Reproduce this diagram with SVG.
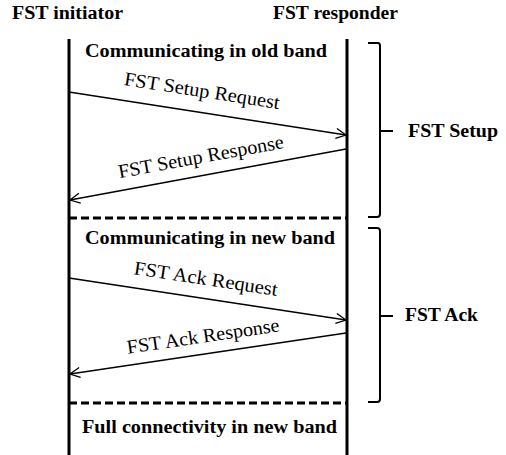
<svg xmlns="http://www.w3.org/2000/svg" width="506" height="455" viewBox="0 0 506 455">
  <defs>
    <marker id="arrow" viewBox="0 0 12 12" refX="11" refY="6" markerWidth="12" markerHeight="12" markerUnits="userSpaceOnUse" orient="auto">
      <path d="M1,1 L11,6 L1,11" fill="none" stroke="#000" stroke-width="1.3"/>
    </marker>
  </defs>
  <style>
    text { font-family: 'Liberation Serif', 'DejaVu Serif', serif; fill: #000; }
    .bold { font-weight: bold; font-size: 18px; }
    .msg { font-size: 19.5px; text-anchor: middle; }
    .life { stroke: #000; stroke-width: 3; fill: none; }
    .dash { stroke: #000; stroke-width: 3; stroke-dasharray: 8 4; fill: none; }
    .brace { stroke: #000; stroke-width: 2; fill: none; }
    .link { stroke: #000; stroke-width: 1.3; fill: none; marker-end: url(#arrow); }
  </style>
  <rect width="506" height="455" fill="#fff"/>

  <g id="initiator">
    <text class="bold" x="12" y="18.5" textLength="111" lengthAdjust="spacingAndGlyphs">FST initiator</text>
    <line class="life" x1="69" y1="39" x2="69" y2="455"/>
  </g>
  <g id="responder">
    <text class="bold" x="273" y="18.5" textLength="125" lengthAdjust="spacingAndGlyphs">FST responder</text>
    <line class="life" x1="347" y1="39" x2="347" y2="455"/>
  </g>

  <g id="phase-old">
    <text class="bold" x="85" y="56.5" textLength="242" lengthAdjust="spacingAndGlyphs">Communicating in old band</text>
  </g>
  <g id="phase-new">
    <line class="dash" x1="69" y1="218" x2="346" y2="218"/>
    <text class="bold" x="85" y="244" textLength="250" lengthAdjust="spacingAndGlyphs">Communicating in new band</text>
  </g>
  <g id="phase-full">
    <line class="dash" x1="69" y1="403" x2="346" y2="403"/>
    <text class="bold" x="82" y="433" textLength="255" lengthAdjust="spacingAndGlyphs">Full connectivity in new band</text>
  </g>

  <g id="setup-brace">
    <path class="brace" d="M368,43 H378 Q380,43 380,46 V214 Q380,217 377,217 H368 M380,131 H393"/>
    <text class="bold" x="408" y="136.5" textLength="90" lengthAdjust="spacingAndGlyphs">FST Setup</text>
  </g>
  <g id="ack-brace">
    <path class="brace" d="M368,228 H377 Q380,228 380,231 V399 Q380,402 377,402 H368 M380,316 H393"/>
    <text class="bold" x="405" y="321" textLength="73" lengthAdjust="spacingAndGlyphs">FST Ack</text>
  </g>

  <g id="connectors">
    <line class="link" x1="69" y1="92" x2="346" y2="135"/>
    <line class="link" x1="346" y1="149" x2="70" y2="200"/>
    <line class="link" x1="69" y1="278" x2="346" y2="320"/>
    <line class="link" x1="346" y1="333" x2="70" y2="374"/>
    <text class="msg" x="201" y="97" transform="rotate(8.8 201 97)" textLength="157" lengthAdjust="spacingAndGlyphs">FST Setup Request</text>
    <text class="msg" x="202" y="163" transform="rotate(-10.4 202 163)" textLength="168" lengthAdjust="spacingAndGlyphs">FST Setup Response</text>
    <text class="msg" x="205" y="285" transform="rotate(8.6 205 285)" textLength="145" lengthAdjust="spacingAndGlyphs">FST Ack Request</text>
    <text class="msg" x="204" y="342.5" transform="rotate(-8.4 204 342.5)" textLength="154" lengthAdjust="spacingAndGlyphs">FST Ack Response</text>
  </g>
</svg>
